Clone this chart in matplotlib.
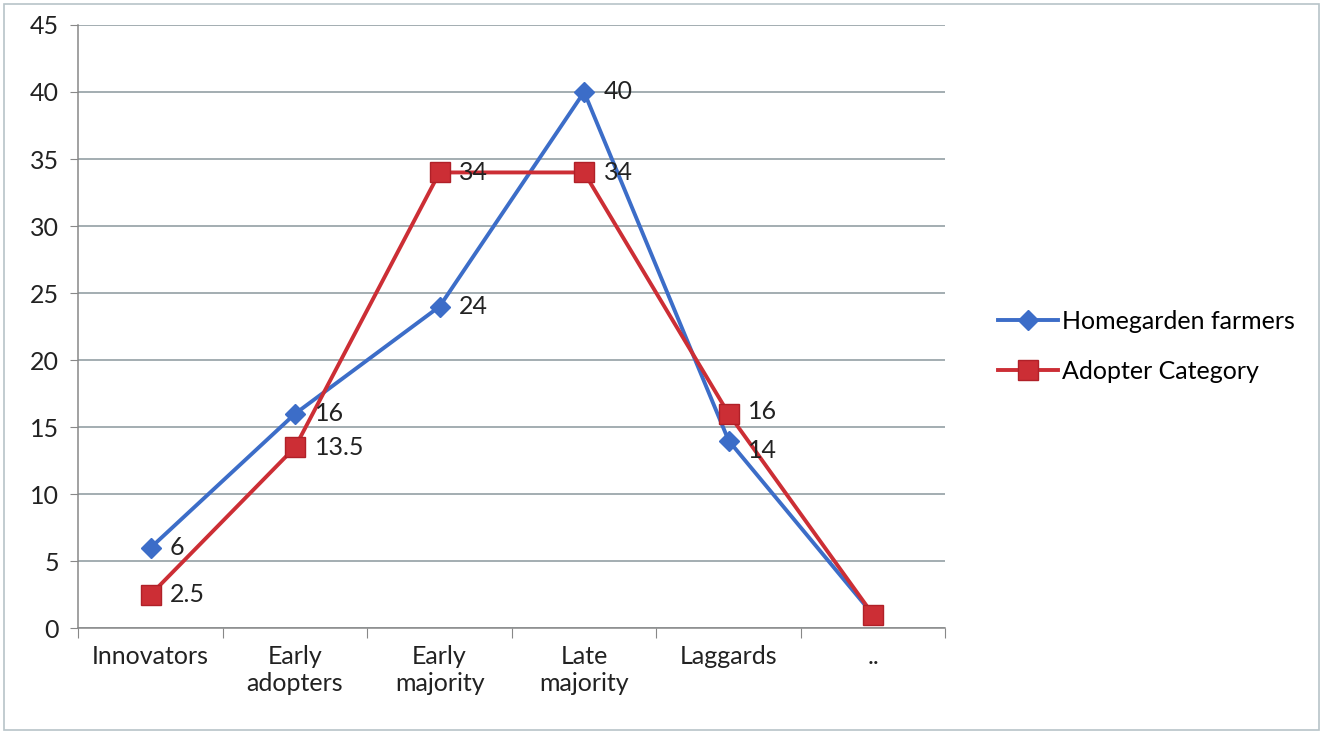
import matplotlib
matplotlib.use("Agg")
import matplotlib.pyplot as plt
from matplotlib.patches import Rectangle

categories = ["Innovators", "Early\nadopters", "Early\nmajority", "Late\nmajority", "Laggards", ".."]
homegarden = [6, 16, 24, 40, 14, 1]
adopter = [2.5, 13.5, 34, 34, 16, 1]
homegarden_labels = ["6", "16", "24", "40", "14", ""]
adopter_labels = ["2.5", "13.5", "34", "34", "16", ""]
y_ticks = [0, 5, 10, 15, 20, 25, 30, 35, 40, 45]

plt.rcParams['font.family'] = ['Lato', 'DejaVu Sans']
FS = 18

fig = plt.figure(figsize=(13.26, 7.34), dpi=100)
ax = fig.add_axes([0.059, 0.144, 0.654, 0.822])

blue = "#3C6DC8"
red = "#CC2E35"
x = [i + 0.5 for i in range(len(categories))]

ax.plot(x, homegarden, color=blue, lw=2.8, marker="D", ms=10, mfc=blue, mec=blue,
        label="Homegarden farmers", zorder=3)
ax.plot(x, adopter, color=red, lw=2.8, marker="s", ms=14, mfc=red, mec="#B02028",
        label="Adopter Category", zorder=4)

for xi, v, t in zip(x, homegarden, homegarden_labels):
    if t:
        dy = -7 if t == "14" else 0
        ax.annotate(t, (xi, v), xytext=(14, dy), textcoords="offset points",
                    ha="left", va="center", fontsize=FS, color="#222222", zorder=5)
for xi, v, t in zip(x, adopter, adopter_labels):
    if t:
        dy = 2 if t == "16" else 0
        ax.annotate(t, (xi, v), xytext=(14, dy), textcoords="offset points",
                    ha="left", va="center", fontsize=FS, color="#222222", zorder=5)

ax.set_xlim(0, 6)
ax.set_ylim(0, 45)
ax.set_yticks(y_ticks)
ax.set_yticklabels([str(t) for t in y_ticks], fontsize=FS, color="#222222")
ax.set_xticks(range(7))
ax.set_xticklabels([])
ax.set_xticks(x, minor=True)
ax.set_xticklabels(categories, minor=True, fontsize=FS, color="#222222")
ax.tick_params(axis="x", which="minor", length=0, pad=12)
ax.tick_params(axis="x", which="major", length=7, color="#888888", direction="out")
ax.tick_params(axis="y", length=6, color="#888888", pad=8)
ax.grid(axis="y", color="#94a0a4", lw=1.2)
ax.set_axisbelow(True)
for s in ["top", "right"]:
    ax.spines[s].set_visible(False)
for s in ["left", "bottom"]:
    ax.spines[s].set_color("#888888")
    ax.spines[s].set_linewidth(1.1)

fig.legend(loc="center left", bbox_to_anchor=(0.736, 0.528), frameon=False,
           fontsize=FS, handlelength=2.4, handletextpad=0.15, labelspacing=1.1)

fig.patches.append(Rectangle((0.003, 0.005), 0.992, 0.99, transform=fig.transFigure,
                             fill=False, edgecolor="#b8c4c8", lw=1.2))

fig.savefig("out.png", dpi=100)
